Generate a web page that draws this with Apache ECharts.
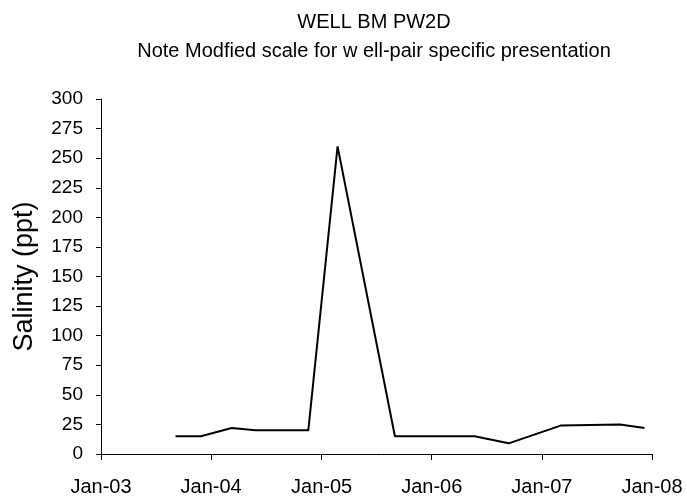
<!DOCTYPE html>
<html>
<head>
<meta charset="utf-8">
<script src="https://cdn.jsdelivr.net/npm/echarts@6/dist/echarts.min.js"></script>
<style>
html,body{margin:0;padding:0;background:#fff;}
#chart{width:687px;height:503px;}
</style>
</head>
<body>
<div id="chart"></div>
<script>
const titleText = 'WELL BM PW2D';
const subtitleText = 'Note Modfied scale for w ell-pair specific presentation';
const yAxisName = 'Salinity (ppt)';
const sampleDates = ['2003-09-05','2003-11-28','2004-03-09','2004-05-27','2004-11-18','2005-02-23','2005-09-01','2006-05-23','2006-09-13','2007-03-04','2007-09-17','2007-12-07'];
const salinity = [15, 15, 22, 20, 20, 260, 15, 15, 9, 24, 25, 22];
const xStart = '2003-01-01';
const xEnd = '2008-01-01';
const yTicks = [0, 300, 25];

function ts(s){ const p = s.split('-').map(Number); return new Date(p[0], p[1]-1, p[2]).getTime(); }
const font = "'Liberation Sans', Arial, sans-serif";
const chart = echarts.init(document.getElementById('chart'), null, {renderer:'canvas'});
chart.setOption({
  backgroundColor: '#ffffff',
  animation: false,
  title: {
    text: titleText,
    subtext: subtitleText,
    left: 369,
    textAlign: 'center',
    top: 7,
    itemGap: 9,
    textStyle: {fontFamily: font, fontSize: 20, fontWeight: 'normal', color: '#000'},
    subtextStyle: {fontFamily: font, fontSize: 20, color: '#000'}
  },
  grid: {left: 101, top: 99, width: 551, height: 355, containLabel: false},
  xAxis: {
    type: 'time',
    min: ts(xStart),
    max: ts(xEnd),
    splitNumber: 5,
    minInterval: 365 * 86400000,
    axisLine: {show: true, lineStyle: {color: '#000', width: 1}},
    axisTick: {show: true, inside: false, length: 6, lineStyle: {color: '#000'}},
    splitLine: {show: false},
    axisLabel: {
      fontFamily: font, fontSize: 20, color: '#000', margin: 23,
      showMinLabel: true, showMaxLabel: true, hideOverlap: false,
      formatter: function(v){
        const d = new Date(v);
        return 'Jan-' + String(d.getFullYear() % 100).padStart(2,'0');
      }
    }
  },
  yAxis: {
    type: 'value',
    min: yTicks[0], max: yTicks[1], interval: yTicks[2],
    name: yAxisName,
    nameLocation: 'middle',
    nameGap: 63,
    nameTextStyle: {fontFamily: font, fontSize: 27, color: '#000'},
    axisLine: {show: true, lineStyle: {color: '#000', width: 1}},
    axisTick: {show: true, inside: false, length: 5, lineStyle: {color: '#000'}},
    splitLine: {show: false},
    axisLabel: {fontFamily: font, fontSize: 19, color: '#000', margin: 18}
  },
  series: [{
    type: 'line',
    data: sampleDates.map((d, i) => [ts(d), salinity[i]]),
    showSymbol: false,
    symbol: 'none',
    lineStyle: {color: '#000', width: 2},
    itemStyle: {color: '#000'}
  }]
});
</script>
</body>
</html>
